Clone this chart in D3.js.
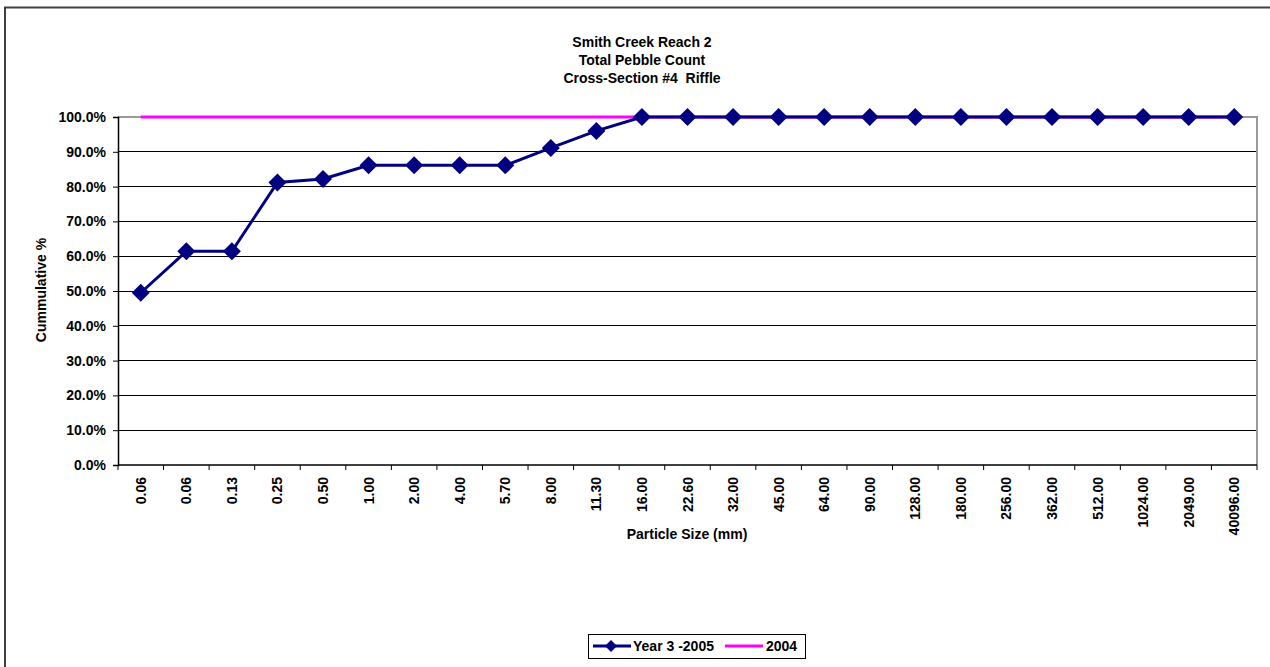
<!DOCTYPE html>
<html><head><meta charset="utf-8">
<script src="https://cdn.jsdelivr.net/npm/d3@7"></script>
<style>body{margin:0;background:#fff}svg{font-family:"Liberation Sans",Arial,sans-serif;font-weight:bold}text{white-space:pre}</style>
</head><body><svg id="c" width="1270" height="667"></svg>
<script>
const categories = ["0.06","0.06","0.13","0.25","0.50","1.00","2.00","4.00","5.70","8.00","11.30","16.00","22.60","32.00","45.00","64.00","90.00","128.00","180.00","256.00","362.00","512.00","1024.00","2049.00","40096.00"];
const year3_2005 = [49.5,61.4,61.4,81.2,82.2,86.1,86.1,86.1,86.1,91.1,96.0,100,100,100,100,100,100,100,100,100,100,100,100,100,100];
const y2004 = [100,100,100,100,100,100,100,100,100,100,100,100,100,100,100,100,100,100,100,100,100,100,100,100,100];
const yTicks = [0,10,20,30,40,50,60,70,80,90,100];
const titleLines = ["Smith Creek Reach 2","Total Pebble Count","Cross-Section #4  Riffle"];

const FS = 14;
const svg = d3.select("#c");
svg.append("rect").attr("x",5).attr("y",7.5).attr("width",1300).attr("height",700)
  .attr("fill","#fff").attr("stroke","#404040").attr("stroke-width",2);

const L=118,R=1257,T=117,B=465;
const x = d3.scaleBand().domain(d3.range(categories.length)).range([L,R]);
const y = d3.scaleLinear().domain([0,100]).range([B,T]);
const cx = i => x(i)+x.bandwidth()/2;

// gridlines
svg.append("g").selectAll("line").data(yTicks.filter(d=>d>0&&d<100)).join("line")
  .attr("x1",L).attr("x2",R).attr("y1",d=>y(d)).attr("y2",d=>y(d)).attr("stroke","#000").attr("stroke-width",1)
  .attr("shape-rendering","crispEdges");
// plot border top/right gray
svg.append("path").attr("d",`M${L},${T}H${R}V${B}`).attr("fill","none").attr("stroke","#999").attr("stroke-width",1.5)
  .attr("shape-rendering","crispEdges");

// axes
const yAxis = d3.axisLeft(y).tickValues(yTicks).tickFormat(d=>d.toFixed(1)+"%").tickSize(5).tickPadding(7);
const gy = svg.append("g").attr("transform",`translate(${L},0)`).call(yAxis);
gy.selectAll("text").attr("font-size",FS).attr("font-weight","bold").attr("font-family","Liberation Sans, Arial");
gy.select(".domain").attr("stroke","#000").attr("stroke-width",1.5);

const xb = d3.scaleLinear().domain([0,categories.length]).range([L,R]);
const gx = svg.append("g").attr("transform",`translate(0,${B})`);
gx.append("line").attr("x1",L).attr("x2",R).attr("stroke","#000").attr("stroke-width",1.5);
gx.selectAll("line.t").data(d3.range(categories.length+1)).join("line").attr("class","t")
  .attr("x1",d=>xb(d)).attr("x2",d=>xb(d)).attr("y1",0).attr("y2",5).attr("stroke","#000");
gx.selectAll("text").data(categories).join("text")
  .attr("transform",(d,i)=>`translate(${cx(i)+5},12) rotate(-90)`)
  .attr("text-anchor","end").attr("font-size",FS).text(d=>d);

// titles
svg.append("g").selectAll("text").data(titleLines).join("text")
  .attr("x",642).attr("y",(d,i)=>47+i*18).attr("text-anchor","middle").attr("font-size",FS).text(d=>d);
svg.append("text").attr("transform","translate(46,290) rotate(-90)").attr("text-anchor","middle")
  .attr("font-size",FS).text("Cummulative %");
svg.append("text").attr("x",687).attr("y",539).attr("text-anchor","middle").attr("font-size",FS).text("Particle Size (mm)");

// series
const line = d3.line().x((d,i)=>cx(i)).y(d=>y(d));
svg.append("path").datum(y2004).attr("d",line).attr("fill","none").attr("stroke","#ff00ff").attr("stroke-width",3);
svg.append("path").datum(year3_2005).attr("d",line).attr("fill","none").attr("stroke","#000080").attr("stroke-width",3);
const diamond = "M0,-9L9,0L0,9L-9,0Z";
svg.append("g").selectAll("path").data(year3_2005).join("path")
  .attr("transform",(d,i)=>`translate(${cx(i)},${y(d)})`).attr("d",diamond).attr("fill","#000080");

// legend
const lg = svg.append("g");
lg.append("rect").attr("x",588.5).attr("y",634.5).attr("width",217).attr("height",24).attr("fill","#fff").attr("stroke","#000");
lg.append("line").attr("x1",593).attr("x2",631).attr("y1",646).attr("y2",646).attr("stroke","#000080").attr("stroke-width",3);
lg.append("path").attr("transform","translate(611,646)").attr("d","M0,-6L6,0L0,6L-6,0Z").attr("fill","#000080");
lg.append("text").attr("x",633).attr("y",651).attr("font-size",FS).text("Year 3 -2005");
lg.append("line").attr("x1",725).attr("x2",763).attr("y1",646).attr("y2",646).attr("stroke","#ff00ff").attr("stroke-width",3);
lg.append("text").attr("x",766).attr("y",651).attr("font-size",FS).text("2004");
</script></body></html>
